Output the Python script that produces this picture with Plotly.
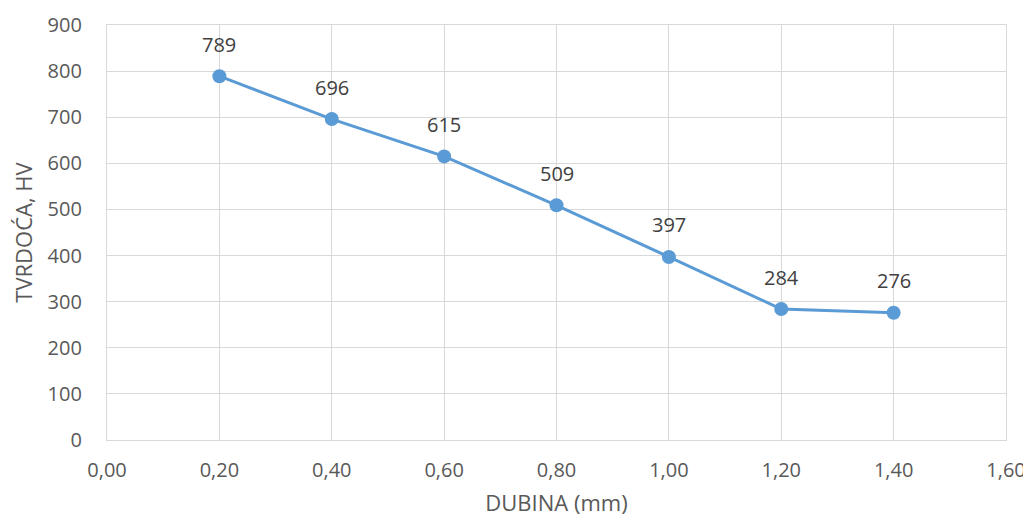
import plotly.graph_objects as go

depth_mm = [0.2, 0.4, 0.6, 0.8, 1.0, 1.2, 1.4]
hardness_hv = [789, 696, 615, 509, 397, 284, 276]

x_title = "DUBINA (mm)"
y_title = "TVRDOĆA, HV"

line_color = "#5B9BD5"
grid_color = "#D9D9D9"
font_family = "Open Sans, Noto Sans, sans-serif"

fig = go.Figure()
fig.add_trace(go.Scatter(
    x=depth_mm, y=hardness_hv, mode="lines+markers",
    line=dict(color=line_color, width=3),
    marker=dict(color=line_color, size=14),
    hoverinfo="x+y", showlegend=False,
))

for xv, yv in zip(depth_mm, hardness_hv):
    fig.add_annotation(x=xv, y=yv, text=str(yv), showarrow=False,
                       yshift=32, font=dict(size=20, color="#404040", family=font_family))

# page body has an 8px margin: figure sits at (8, 8)
fig.update_layout(
    width=1023, height=509,
    margin=dict(l=99, r=25, t=17, b=77),
    paper_bgcolor="white", plot_bgcolor="white",
    separators=", ",
    font=dict(family=font_family, size=20, color="#595959"),
)
fig.update_xaxes(
    range=[0, 1.6], dtick=0.2, tick0=0, tickformat=".2f", automargin=False,
    ticklabeloverflow="allow",
    showgrid=True, gridcolor=grid_color, gridwidth=1.3,
    showline=True, linecolor=grid_color, linewidth=1.3, mirror=True,
    zeroline=False, ticks="outside", ticklen=12, tickcolor="rgba(0,0,0,0)",
    title=dict(text=x_title, standoff=21, font=dict(size=22, color="#595959")),
    tickfont=dict(size=20, color="#595959"),
)
fig.update_yaxes(
    range=[0, 900], dtick=100, tick0=0, automargin=False,
    showgrid=True, gridcolor=grid_color, gridwidth=1.3,
    showline=True, linecolor=grid_color, linewidth=1.3, mirror=True,
    zeroline=False, ticks="outside", ticklen=20, tickcolor="rgba(0,0,0,0)",
    title=dict(text=y_title, standoff=12, font=dict(size=22, color="#595959")),
    tickfont=dict(size=20, color="#595959"),
)

fig.write_html("out.html")
